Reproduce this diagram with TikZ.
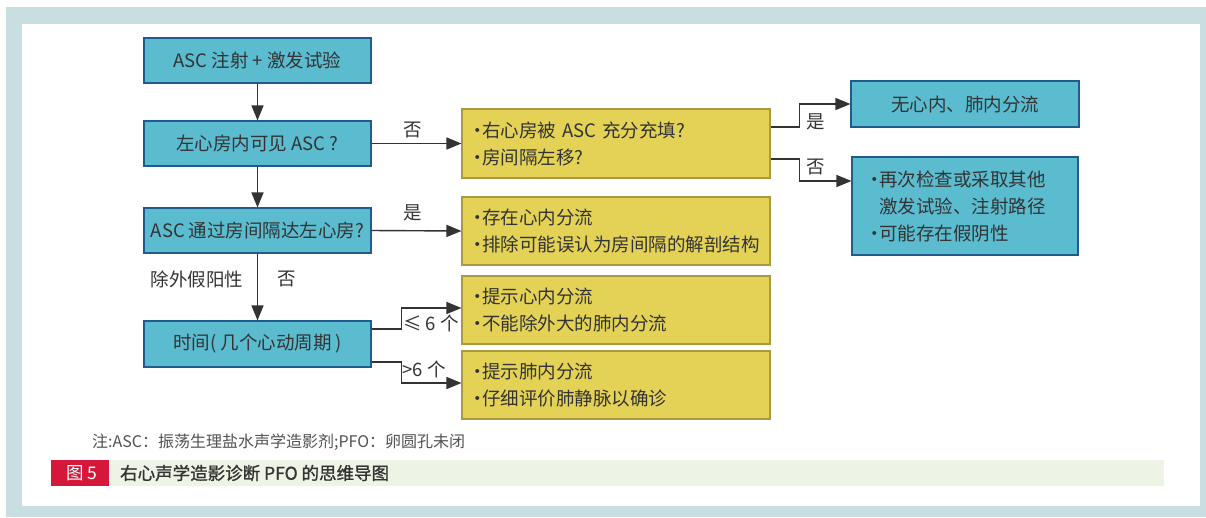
\documentclass[tikz,border=0pt]{standalone}
\usepackage{fontspec}
\setmainfont{Noto Sans CJK SC}
\newfontfamily\capfont[BoldFont={Noto Sans CJK SC},BoldFeatures={FakeBold=1.2}]{Noto Sans CJK SC}
\usetikzlibrary{arrows.meta,calc}
\definecolor{framec}{HTML}{C9DEE1}
\definecolor{bluefill}{HTML}{5BBCD0}
\definecolor{blueline}{HTML}{1F5C8C}
\definecolor{yelfill}{HTML}{E4D256}
\definecolor{yelline}{HTML}{A89B3F}
\definecolor{txt}{HTML}{333333}
\definecolor{capred}{HTML}{D5173A}
\definecolor{capgreen}{HTML}{EEF4E5}
\newcommand{\bul}{\makebox[14pt][l]{·}}
\begin{document}
\begin{tikzpicture}[x=1pt,y=-1pt,
  bluebox/.style={draw=blueline,fill=bluefill,line width=1.1pt,text=txt,
    font=\fontsize{18.5}{22}\selectfont,inner sep=0pt,minimum width=227pt,minimum height=45pt},
  yelbox/.style={draw=yelline,fill=yelfill,line width=1.1pt,text=txt,
    font=\fontsize{18.5}{27}\selectfont,inner xsep=6pt,inner ysep=0pt,align=left,
    text width=296pt,minimum height=68pt},
  lbl/.style={text=txt,font=\fontsize{18.5}{22}\selectfont,inner sep=0pt},
  arr/.style={draw=txt,line width=1.4pt,-{Triangle[length=15pt,width=12pt]}},
  ln/.style={draw=txt,line width=1.4pt}]
\useasboundingbox (0,0) rectangle (1206,517);
% frame
\fill[framec] (6,7) rectangle (1206,517);
\fill[white] (22,24) rectangle (1200,506);
% left column
\node[bluebox] (b1) at (257.5,60.5) {ASC 注射 + 激发试验};
\node[bluebox] (b2) at (257.5,143.5) {左心房内可见 ASC ?};
\node[bluebox] (b3) at (257.5,230.5) {ASC 通过房间隔达左心房?};
\node[bluebox,minimum height=46pt] (b4) at (257.5,344) {时间( 几个心动周期 )};
% middle column
\node[yelbox,minimum height=69pt] (y1) at (616,143.5) {\bul 右心房被 ASC 充分充填?\\\bul 房间隔左移?};
\node[yelbox] (y2) at (616,231) {\bul 存在心内分流\\\bul 排除可能误认为房间隔的解剖结构};
\node[yelbox] (y3) at (616,310) {\bul 提示心内分流\\\bul 不能除外大的肺内分流};
\node[yelbox] (y4) at (616,385) {\bul 提示肺内分流\\\bul 仔细评价肺静脉以确诊};
% right column
\node[bluebox,minimum width=228pt,minimum height=46pt] (r1) at (965,104) {无心内、肺内分流};
\node[bluebox,minimum width=226pt,minimum height=98pt,align=left,text width=200pt,
  inner xsep=13pt,font=\fontsize{18.5}{27}\selectfont] (r2) at (965,206)
  {\bul 再次检查或采取其他\\\hspace*{14pt}激发试验、注射路径\\\bul 可能存在假阴性};
% vertical arrows
\draw[arr] (b1) -- (b2);
\draw[arr] (b2) -- (b3);
\draw[arr] (b3) -- (b4);
\node[lbl] (lfp) at (197,279) {除外假阳性};
\node[lbl] (lno3) at (287,279) {否};
% horizontal arrows
\draw[arr] (b2.east) -- (y1.west);
\node[lbl] (lno1) at (413,130) {否};
\draw[arr] (b3.east) -- (y2.west);
\node[lbl] (lyes1) at (413,213) {是};
% y1 to right
\draw[arr] ($(y1.east)+(0,-16.5)$) -- ++(29,0) |- (r1.west);
\node[lbl] (lyes2) at (816,122) {是};
\draw[arr] ($(y1.east)+(0,15.5)$) -- ++(29,0) |- ($(r2.west)+(0,-25)$);
\node[lbl] (lno2) at (816,167) {否};
% b4 to y3/y4
\draw[arr] ($(b4.east)+(0,-15)$) -- ++(30,0) |- ($(y3.west)+(0,-2)$);
\node[lbl] (lle) at (431,323) {≤ 6 个};
\draw[arr] ($(b4.east)+(0,18)$) -- ++(30,0) |- ($(y4.west)+(0,-2)$);
\node[lbl] (lgt) at (424,369) {>6 个};
% note and caption
\node[anchor=west,text=txt!85,font=\fontsize{16}{18}\selectfont,inner sep=0pt] (note) at (92,442)
  {注:ASC：振荡生理盐水声学造影剂;PFO：卵圆孔未闭};
\fill[capgreen] (109,460) rectangle (1164,486);
\node[fill=capred,minimum width=58pt,minimum height=26pt,inner sep=0pt,text=white,
  font=\fontsize{17.5}{19}\selectfont] (fig) at (80,473) {\hspace*{4pt}图 5};
\node[anchor=west,text=txt,font=\capfont\fontsize{17.5}{19}\selectfont\bfseries,inner sep=0pt] (cap) at (120,473)
  {右心声学造影诊断 PFO 的思维导图};
\end{tikzpicture}
\end{document}
